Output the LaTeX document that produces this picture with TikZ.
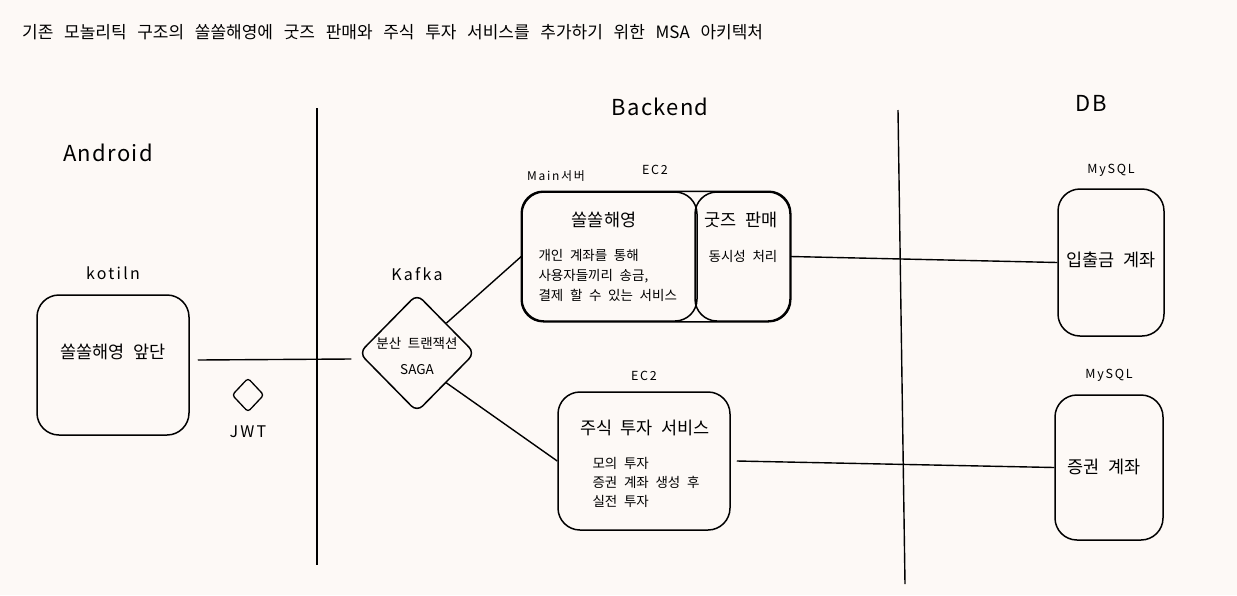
\documentclass[tikz,border=0pt]{standalone}
\usepackage{fontspec}
\setmainfont{Noto Sans CJK KR}[WordSpace = 2.2]
\newfontfamily\handfont{Noto Sans CJK KR}[LetterSpace = 14, WordSpace = 2]
\newfontfamily\titlefont{Noto Sans CJK KR}[WordSpace = 2.8]
\usetikzlibrary{positioning,shapes.geometric}
\definecolor{paper}{RGB}{253,249,246}

\begin{document}
\begin{tikzpicture}[x = 1pt, y = -1pt,
box/.style = {draw, line width = 1.5pt, rounded corners = 22pt, inner sep = 0pt},
link/.style = {line width = 1.4pt},
tag/.style = {inner sep = 0pt, font = \handfont\fontsize{12.5}{14}\selectfont},
lbl/.style = {inner sep = 0pt, font = \handfont\fontsize{16}{18}\selectfont},
head/.style = {font = \fontsize{17.5}{20}\selectfont},
body/.style = {align = left, font = \fontsize{13.5}{20}\selectfont},
zone/.style = {font = \handfont\fontsize{22}{24}\selectfont\addfontfeature{LetterSpace = 6}}]
\useasboundingbox[fill = paper] (0,0) rectangle (1237,595);
\node[anchor = west, inner sep = 0pt, font = \titlefont\fontsize{17}{19}\selectfont] (title) at (22,32) {기존 모놀리틱 구조의 쏠쏠해영에 굿즈 판매와 주식 투자 서비스를 추가하기 위한 MSA 아키텍처};
\node[zone] (android) at (108,153) {Android};
\node[zone] (backend) at (660,107) {Backend};
\node[zone] (db) at (1091,103) {DB};
\draw[link] (317,108) -- (317,565);
\draw[link] (898,110) -- (905,584);
% client side
\node[box, minimum width = 152, minimum height = 140] (front) at (113,365) {};
\node[head] (frontText) at (113,352) {쏠쏠해영 앞단};
\node[lbl, above = 14pt of front] (kotlin) {kotiln};
\node[draw, diamond, line width = 1.3pt, rounded corners = 3pt, minimum width = 32, minimum height = 34, inner sep = 0pt] (jwt) at (248,395) {};
\node[lbl, below = 13pt of jwt] (jwtText) {JWT};
% kafka
\node[draw, diamond, line width = 1.5pt, rounded corners = 8pt, minimum width = 116, minimum height = 118, inner sep = 0pt] (kafka) at (417,353) {};
\node[align = center, font = \fontsize{13.5}{26}\selectfont] (kafkaText) at (417,356) {분산 트랜잭션\\SAGA};
\node[lbl, above = 12pt of kafka] (kafkaTag) {Kafka};
% main server
\node[box, minimum width = 175, minimum height = 129] (main) at (609.5,256.5) {};
\node[box, minimum width = 95, minimum height = 129] (goods) at (742.5,256.5) {};
\draw[line width = 1.5pt, rounded corners = 22pt] (main.north west) rectangle (goods.south east);
\node[head] (mainText) at (604,220) {쏠쏠해영};
\node[body, anchor = west] (mainBody) at (535,275) {개인 계좌를 통해\\사용자들끼리 송금,\\결제 할 수 있는 서비스};
\node[head] (goodsText) at (741,220) {굿즈 판매};
\node[body] (goodsBody) at (743,256) {동시성 처리};
\node[tag, font = \handfont\fontsize{12}{14}\selectfont] (mainTag) at (556,176) {Main서버};
\node[tag] (mainEc) at (655,170) {EC2};
% stock server
\node[box, minimum width = 172, minimum height = 138] (stock) at (644,461) {};
\node[head] (stockText) at (645,428) {주식 투자 서비스};
\node[body, anchor = west, font = \fontsize{13.5}{19}\selectfont] (stockBody) at (589,482) {모의 투자\\증권 계좌 생성 후\\실전 투자};
\node[tag, above = 10pt of stock] (stockEc) {EC2};
% databases
\node[box, minimum width = 106, minimum height = 147] (db1) at (1111,262.5) {};
\node[head] (db1Text) at (1111,260) {입출금 계좌};
\node[tag, above = 12pt of db1] (db1Tag) {MySQL};
\node[box, minimum width = 108, minimum height = 145] (db2) at (1109,467.5) {};
\node[head] (db2Text) at (1104,467) {증권 계좌};
\node[tag, above = 13pt of db2] (db2Tag) {MySQL};
% links
\draw[link] ([xshift = 8pt, yshift = 5pt]front.east) -- ([xshift = -7pt, yshift = -6pt]kafka.west);
\draw[link] (kafka.north east) -- (main.west);
\draw[link] (kafka.south east) -- (stock.west);
\draw[link] (goods.east) -- (db1.west);
\draw[link] ([xshift = 6pt]stock.east) -- (db2.west);
\end{tikzpicture}
\end{document}
